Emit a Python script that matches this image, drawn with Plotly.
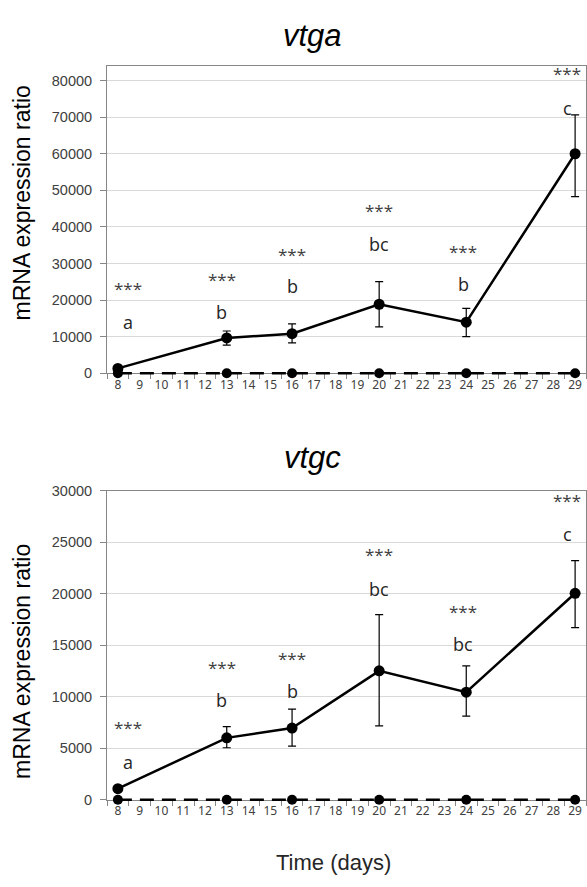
import plotly.graph_objects as go

days = [str(d) for d in range(8, 30)]
sample_days = ["8", "13", "16", "20", "24", "29"]

# vtga
vtga_mean = [1340, 9660, 10820, 18870, 13960, 60000]
vtga_err_plus = [300, 1900, 2700, 6200, 3800, 10600]
vtga_err_minus = [300, 1950, 2500, 6200, 3950, 11700]
vtga_ctrl = [0, 0, 0, 0, 0, 0]
vtga_letters = ["a", "b", "b", "bc", "b", "c"]
vtga_letter_y = [13940, 16620, 23860, 35390, 24400, 72390]
vtga_star_y = [23060, 25740, 32520, 44500, 33240, 82040]

# vtgc
vtgc_mean = [1080, 6010, 6960, 12520, 10450, 20050]
vtgc_err_plus = [150, 1100, 1840, 5460, 2550, 3180]
vtgc_err_minus = [150, 960, 1760, 5340, 2320, 3330]
vtgc_ctrl = [0, 0, 0, 0, 0, 0]
vtgc_letters = ["a", "b", "b", "bc", "bc", "c"]
vtgc_letter_y = [3650, 9660, 10610, 20460, 15090, 25770]
vtgc_star_y = [6990, 12810, 13760, 23770, 18330, 29040]

label_xshift = [10, -5, 0, 0, -3, -8]

W, H = 587, 887
TOP_MAX, BOT_MAX = 84000, 30000
PAD = 8  # px of extra room below zero for the dashed control line

xdom = [107 / W, 586 / W]
top_px = (59, 372)
bot_px = (491.7, 806.3)
top_dom = [(H - top_px[1]) / H, (H - top_px[0]) / H]
bot_dom = [(H - bot_px[1]) / H, (H - bot_px[0]) / H]
top_dom_ov = [top_dom[0] - PAD / H, top_dom[1]]
bot_dom_ov = [bot_dom[0] - PAD / H, bot_dom[1]]
top_ov_min = -PAD * TOP_MAX / (top_px[1] - top_px[0])
bot_ov_min = -PAD * BOT_MAX / (bot_px[1] - bot_px[0])

fig = go.Figure()

def add_panel(mean, ep, em, ctrl, xa, ya, xo, yo):
    fig.add_trace(go.Scatter(
        x=sample_days, y=ctrl, xaxis=xo, yaxis=yo, mode="lines",
        line=dict(color="black", width=2.5, dash="14px,8px"),
        showlegend=False, hoverinfo="skip"))
    fig.add_trace(go.Scatter(
        x=sample_days, y=ctrl, xaxis=xa, yaxis=ya, mode="markers",
        marker=dict(color="black", size=10), showlegend=False, cliponaxis=False))
    fig.add_trace(go.Scatter(
        x=sample_days, y=mean, xaxis=xa, yaxis=ya, mode="lines+markers",
        line=dict(color="black", width=2.5),
        marker=dict(color="black", size=11),
        error_y=dict(type="data", array=ep, arrayminus=em, symmetric=False,
                     color="black", thickness=1.2, width=4),
        showlegend=False, cliponaxis=False))

add_panel(vtga_mean, vtga_err_plus, vtga_err_minus, vtga_ctrl, "x", "y", "x3", "y3")
add_panel(vtgc_mean, vtgc_err_plus, vtgc_err_minus, vtgc_ctrl, "x2", "y2", "x4", "y4")

xcommon = dict(type="category", categoryorder="array", categoryarray=days,
               range=[-0.5, 21.5], tickson="boundaries", ticks="outside",
               ticklen=5, tickcolor="#868686", showline=True, linecolor="#868686",
               linewidth=1, mirror=True, showgrid=False, zeroline=False,
               tickangle=0, layer="below traces",
               tickfont=dict(family="Noto Sans", size=12, color="#404040"),
               domain=xdom, tickmode="array", tickvals=days, ticktext=days)
ycommon = dict(ticks="outside", ticklen=6, tickcolor="#868686", showline=True,
               linecolor="#868686", linewidth=1, mirror=True, showgrid=True,
               gridcolor="#d9d9d9", gridwidth=1, zeroline=False, layer="below traces",
               ticklabelstandoff=5,
               tickfont=dict(family="Liberation Sans", size=14.5, color="#404040"))
xov = dict(type="category", categoryorder="array", categoryarray=days,
           range=[-0.5, 21.5], domain=xdom, visible=False, showgrid=False, zeroline=False)
yov = dict(visible=False, showgrid=False, zeroline=False)

top_ticks = list(range(0, 80001, 10000))
bot_ticks = list(range(0, 30001, 5000))
fig.update_layout(
    width=W, height=H, margin=dict(l=0, r=0, t=0, b=0),
    paper_bgcolor="white", plot_bgcolor="rgba(0,0,0,0)",
    xaxis=dict(anchor="y", **xcommon),
    xaxis2=dict(anchor="y2", **xcommon),
    yaxis=dict(domain=top_dom, range=[0, TOP_MAX], tickmode="array", tickvals=top_ticks,
               ticktext=[str(v) for v in top_ticks], anchor="x", **ycommon),
    yaxis2=dict(domain=bot_dom, range=[0, BOT_MAX], tickmode="array", tickvals=bot_ticks,
                ticktext=[str(v) for v in bot_ticks], anchor="x2", **ycommon),
    xaxis3=dict(anchor="y3", **xov),
    yaxis3=dict(anchor="x3", domain=top_dom_ov, range=[top_ov_min, TOP_MAX], **yov),
    xaxis4=dict(anchor="y4", **xov),
    yaxis4=dict(anchor="x4", domain=bot_dom_ov, range=[bot_ov_min, BOT_MAX], **yov),
)

anns = []
for letters, ly, sy, xr, yr in [(vtga_letters, vtga_letter_y, vtga_star_y, "x", "y"),
                                (vtgc_letters, vtgc_letter_y, vtgc_star_y, "x2", "y2")]:
    for d, lt, lyv, syv, xs in zip(sample_days, letters, ly, sy, label_xshift):
        xi = days.index(d)
        anns.append(dict(x=xi, y=lyv, xref=xr, yref=yr, text=lt, showarrow=False,
                         xanchor="center", yanchor="middle", xshift=xs,
                         font=dict(family="Open Sans", size=18, color="#262626")))
        anns.append(dict(x=xi, y=syv, xref=xr, yref=yr, text="***", showarrow=False,
                         xanchor="center", yanchor="middle", xshift=xs,
                         font=dict(family="Open Sans", size=17, color="#404040")))

def paper_text(x, y, text, size, color="black", angle=0):
    anns.append(dict(x=x / W, y=1 - y / H, xref="paper", yref="paper", text=text,
                     showarrow=False, textangle=angle, xanchor="center", yanchor="middle",
                     font=dict(family="Liberation Sans", size=size, color=color)))

paper_text(312, 28, "<i>vtga</i>", 31)
paper_text(312, 458, "<i>vtgc</i>", 31)
paper_text(22, 199, "mRNA expression ratio", 23, angle=-90)
paper_text(22, 666, "mRNA expression ratio", 23, angle=-90)
paper_text(333, 870, "Time (days)", 22, color="#262626")
fig.update_layout(annotations=anns)

fig.write_html("out.html")
